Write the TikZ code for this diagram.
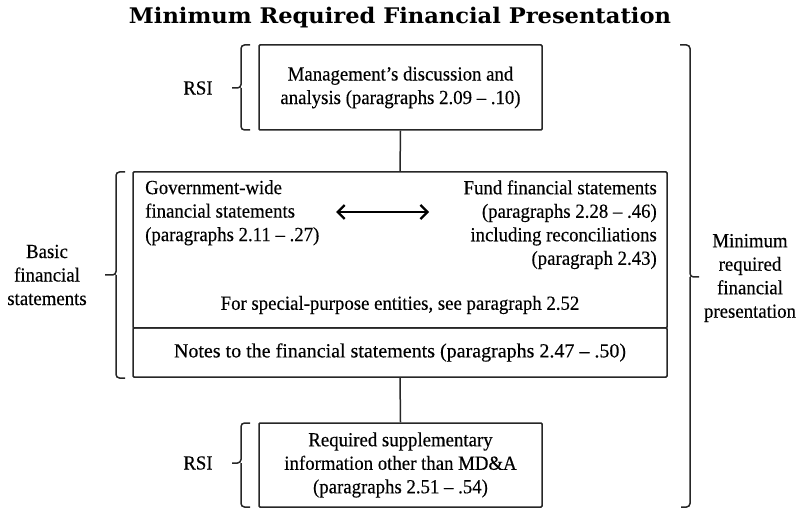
\documentclass[tikz,border=0pt]{standalone}
\usepackage{fontspec}
\setmainfont{Liberation Serif}[FakeStretch=0.94, FakeBold=0.3]
\newfontfamily\widefont{Liberation Serif}[Ligatures=TeX, FakeStretch=1.0, FakeBold=0.3]
\newfontfamily\titlefont{DejaVu Serif}[FakeStretch=1.05]
\usetikzlibrary{arrows.meta}

\begin{document}
\begin{tikzpicture}[x=1pt,y=-1pt,
  ink/.style={draw=black!85, line width=1.5pt},
  frame/.style={ink, rounded corners=1pt, inner sep=0pt, align=center,
    font=\fontsize{20}{23.5}\selectfont},
  txt/.style={inner sep=0pt, font=\fontsize{20}{23.5}\selectfont},
  bracepath/.style={ink, rounded corners=3.5pt},
  dblarrow/.style={draw=black, line width=2.3pt,
    {Straight Barb[length=7pt,width=14pt]}-{Straight Barb[length=7pt,width=14pt]}}
]
\useasboundingbox (0,0) rectangle (800,510);

% title
\node[font=\titlefont\bfseries\fontsize{21.5}{24}\selectfont] (title) at (400,18)
  {Minimum Required Financial Presentation};

% boxes
\node[frame, minimum width=283pt, minimum height=85pt] (mda) at (400.5,87.5)
  {Management’s discussion and\\analysis (paragraphs 2.09 – .10)};
\node[frame, minimum width=534pt, minimum height=156pt] (bfs) at (400,250) {};
\node[frame, minimum width=534pt, minimum height=49pt,
  font=\widefont\fontsize{20}{23.5}\selectfont] (notes) at (400,352.5)
  {Notes to the financial statements (paragraphs 2.47 – .50)};
\node[frame, minimum width=283pt, minimum height=84pt] (rsi) at (400.5,465)
  {Required supplementary\\information other than MD\&A\\(paragraphs 2.51 – .54)};

% texts inside the basic statements box
\node[txt, anchor=north west, align=left] (gov) at (145,180)
  {Government-wide\\financial statements\\(paragraphs 2.11 – .27)};
\node[txt, anchor=north east, align=right] (fund) at (657,180)
  {Fund financial statements\\(paragraphs 2.28 – .46)\\including reconciliations\\(paragraph 2.43)};
\node[txt] (spe) at (400,305) {For special-purpose entities, see paragraph 2.52};

\coordinate (al) at (336,212);
\coordinate (ar) at (429,212);
\draw[dblarrow] (al) -- (ar);

% connectors
\draw[ink] (mda.south) -- (bfs.north);
\draw[ink] (notes.south) -- (rsi.north);

% side labels
\node[txt] (rsitop) at (198,88) {RSI};
\node[txt, align=center] (basic) at (47,275) {Basic\\financial\\statements};
\node[txt] (rsibot) at (198,463) {RSI};
\node[txt, align=center] (minreq) at (750,278) {Minimum\\required\\financial\\presentation};

% braces
\draw[bracepath] (250,45) -- (241,45) -- (241,88) -- (232,88) (241,88) -- (241,130) -- (250,130);
\draw[bracepath] (125,172) -- (116,172) -- (116,275) -- (105,275) (116,275) -- (116,378) -- (125,378);
\draw[bracepath] (250,423) -- (241,423) -- (241,463) -- (232,463) (241,463) -- (241,507) -- (250,507);
\draw[bracepath] (680,45) -- (690,45) -- (690,277) -- (699,277) (690,277) -- (690,507) -- (681,507);
\end{tikzpicture}
\end{document}
